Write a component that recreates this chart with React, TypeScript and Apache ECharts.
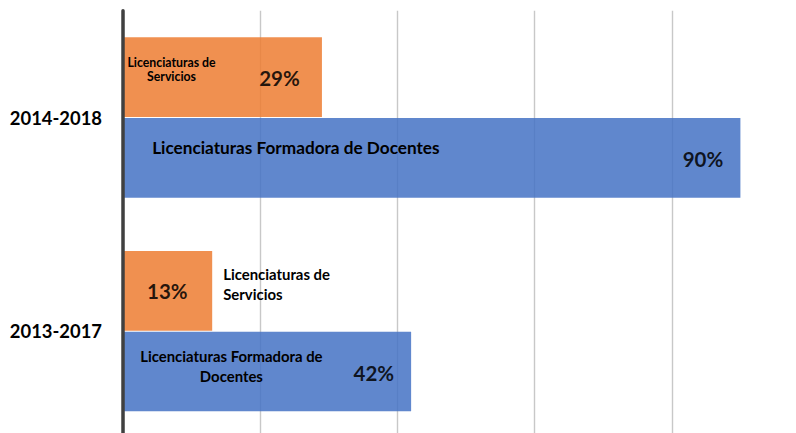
import React, { useEffect, useRef } from "react";
import * as echarts from "echarts";

const categories = ["2013-2017", "2014-2018"];
const serviciosValues = [13, 29];
const docentesValues = [42, 90];
const serviciosName = "Licenciaturas de Servicios";
const docentesName = "Licenciaturas Formadora de Docentes";
const xTicks = [0, 20, 40, 60, 80, 100];

const FONT = "Lato";

export default function App() {
  const ref = useRef<HTMLDivElement>(null);
  useEffect(() => {
    if (!ref.current) return;
    const chart = echarts.init(ref.current, undefined, { renderer: "svg" });
    const pctLabel = (pos: [number, number]) => ({
      show: true,
      position: pos,
      align: "center",
      verticalAlign: "middle",
      fontFamily: FONT,
      fontWeight: "bold",
      fontSize: 20.5,
      color: "#000",
      formatter: (p: any) => p.value + "%",
    });
    const nameLabel = (
      text: string,
      size: number,
      lh: number,
      align: string,
      offset: [number, number]
    ) => ({
      show: true,
      position: "inside",
      formatter: text,
      fontFamily: FONT,
      fontWeight: "bold",
      fontSize: size,
      lineHeight: lh,
      align,
      verticalAlign: "middle",
      color: "#000",
      offset,
    });
    const mpItem = (x: number, cat: string, label: any) => ({
      coord: [x, cat],
      symbol: "circle",
      symbolSize: 1,
      itemStyle: { color: "rgba(0,0,0,0)" },
      label,
    });
    chart.setOption({
      animation: false,
      grid: {
        left: 123,
        top: 10.65,
        width: 686,
        height: 427.4,
        containLabel: false,
        outerBoundsMode: "none",
      },
      xAxis: {
        type: "value",
        min: xTicks[0],
        max: xTicks[xTicks.length - 1],
        interval: xTicks[1] - xTicks[0],
        axisLine: { show: false },
        axisTick: { show: false },
        axisLabel: { show: false },
        splitLine: { show: true, lineStyle: { color: "#c8c8c8", width: 1.4 } },
      },
      yAxis: {
        type: "category",
        data: categories,
        z: 10,
        axisLine: { show: true, lineStyle: { color: "#404040", width: 3.5 } },
        axisTick: { show: false },
        axisLabel: {
          margin: 21,
          fontFamily: FONT,
          fontWeight: "bold",
          fontSize: 18.4,
          color: "#000",
        },
        splitLine: { show: false },
      },
      series: [
        {
          type: "bar",
          name: serviciosName,
          data: [
            { value: serviciosValues[0], label: pctLabel([44.3, 40]) },
            { value: serviciosValues[1], label: pctLabel([156.5, 41]) },
          ],
          barCategoryGap: "25%",
          barGap: "1.3%",
          itemStyle: { color: "#ED7D31", opacity: 0.85 },
          markPoint: {
            silent: true,
            data: [
              mpItem(
                14.6,
                categories[0],
                nameLabel("Licenciaturas de\nServicios", 14.9, 19.3, "left", [0, -6.8])
              ),
              mpItem(
                7.07,
                categories[1],
                nameLabel("Licenciaturas de\nServicios", 12.3, 14, "center", [0, -7.5])
              ),
            ],
          },
        },
        {
          type: "bar",
          name: docentesName,
          data: [
            { value: docentesValues[0], label: pctLabel([250.8, 41.6]) },
            { value: docentesValues[1], label: pctLabel([580, 40.7]) },
          ],
          barCategoryGap: "25%",
          barGap: "1.3%",
          itemStyle: { color: "#4472C4", opacity: 0.85 },
          markPoint: {
            silent: true,
            data: [
              mpItem(
                15.8,
                categories[0],
                nameLabel("Licenciaturas Formadora de\nDocentes", 14.9, 19.5, "center", [0, -5.5])
              ),
              mpItem(
                25.2,
                categories[1],
                nameLabel("Licenciaturas Formadora de Docentes", 17.2, 20, "center", [0, -10])
              ),
            ],
          },
        },
      ],
    });
    return () => chart.dispose();
  }, []);
  return (
    <div
      ref={ref}
      style={{ position: "fixed", left: 0, top: 0, width: 796, height: 433, background: "#fff" }}
    />
  );
}
